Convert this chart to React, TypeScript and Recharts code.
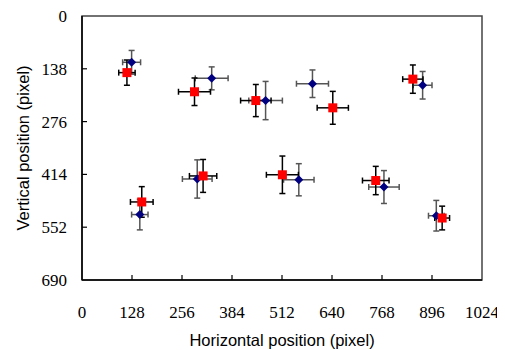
import { ErrorBar, ReferenceArea, Scatter, ScatterChart, XAxis, YAxis } from "recharts"

const xTicks = [0, 128, 256, 384, 512, 640, 768, 896, 1024]
const yTicks = [0, 138, 276, 414, 552, 690]

// blue diamonds
const blueX = [127, 148, 295, 332, 470, 555, 590, 773, 872, 907]
const blueY = [121, 519, 426, 163, 221, 428, 177, 447, 181, 522]
const blueErrX = [23, 21, 38, 42, 43, 39, 41, 39, 24, 20]
const blueErrY = [31, 40, 50, 30, 50, 42, 36, 43, 36, 40]

// red squares
const redX = [115, 153, 288, 310, 445, 513, 642, 752, 847, 922]
const redY = [148, 486, 198, 418, 221, 415, 240, 430, 165, 528]
const redErrX = [21, 29, 41, 35, 39, 41, 40, 34, 26, 19]
const redErrY = [33, 40, 36, 43, 42, 49, 43, 37, 37, 31]

const blueData = blueX.map((x, i) => ({ x, y: blueY[i], ex: blueErrX[i], ey: blueErrY[i] }))
const redData = redX.map((x, i) => ({ x, y: redY[i], ex: redErrX[i], ey: redErrY[i] }))

const serif = "Liberation Serif"
const sans = "Liberation Sans"

function XTick(props: any) {
  const { x, y, payload } = props
  const inner = payload.value !== 0 && payload.value !== 1024
  return (
    <g>
      {inner && <line x1={x} y1={y} x2={x} y2={y - 5} stroke="#000" strokeWidth={1.2} />}
      <text x={x} y={y + 38} textAnchor="middle" style={{ fontFamily: serif, fontSize: 17 }} fill="#000">
        {payload.value}
      </text>
    </g>
  )
}

function YTick(props: any) {
  const { x, y, payload } = props
  const inner = payload.value !== 0 && payload.value !== 690
  return (
    <g>
      {inner && <line x1={x} y1={y} x2={x + 5} y2={y} stroke="#000" strokeWidth={1.2} />}
      <text x={x - 15} y={y + 6} textAnchor="end" style={{ fontFamily: serif, fontSize: 17 }} fill="#000">
        {payload.value}
      </text>
    </g>
  )
}

const Diamond = (p: any) => {
  const { cx, cy } = p
  const r = 4.5
  return <polygon points={`${cx},${cy - r} ${cx + r},${cy} ${cx},${cy + r} ${cx - r},${cy}`} fill="#000080" />
}

const Square = (p: any) => {
  const { cx, cy } = p
  return <rect x={cx - 4.5} y={cy - 4.5} width={9} height={9} fill="#ff0000" />
}

export default function App() {
  return (
    <div style={{ width: 497, height: 342 }}>
      <ScatterChart width={497} height={342} margin={{ top: 8, right: 23, left: 0, bottom: 0 }}>
        <XAxis
          type="number"
          dataKey="x"
          domain={[0, 1024]}
          ticks={xTicks}
          interval={0}
          height={70}
          tickSize={0}
          tickMargin={0}
          tickLine={false}
          tick={<XTick />}
          axisLine={{ stroke: "#000", strokeWidth: 1.5 }}
          label={{ value: "Horizontal position (pixel)", position: "center", dy: 25, fontFamily: sans, fontSize: 16.5, fill: "#000" }}
        />
        <YAxis
          type="number"
          dataKey="y"
          domain={[0, 690]}
          ticks={yTicks}
          interval={0}
          reversed
          width={74}
          tickSize={0}
          tickMargin={0}
          tickLine={false}
          tick={<YTick />}
          axisLine={{ stroke: "#000", strokeWidth: 1.5 }}
          label={{ value: "Vertical position (pixel)", angle: -90, position: "center", dx: -22, fontFamily: sans, fontSize: 16.5, fill: "#000" }}
        />
        <ReferenceArea x1={0} x2={1024} y1={0} y2={690} stroke="#444" strokeWidth={1.5} fill="none" fillOpacity={0} />
        <Scatter data={blueData} shape={Diamond} isAnimationActive={false}>
          <ErrorBar dataKey="ex" direction="x" width={3} stroke="#555" strokeWidth={1.5} isAnimationActive={false} />
          <ErrorBar dataKey="ey" direction="y" width={3} stroke="#555" strokeWidth={1.5} isAnimationActive={false} />
        </Scatter>
        <Scatter data={redData} shape={Square} isAnimationActive={false}>
          <ErrorBar dataKey="ex" direction="x" width={3} stroke="#000" strokeWidth={1.5} isAnimationActive={false} />
          <ErrorBar dataKey="ey" direction="y" width={3} stroke="#000" strokeWidth={1.5} isAnimationActive={false} />
        </Scatter>
      </ScatterChart>
    </div>
  )
}
